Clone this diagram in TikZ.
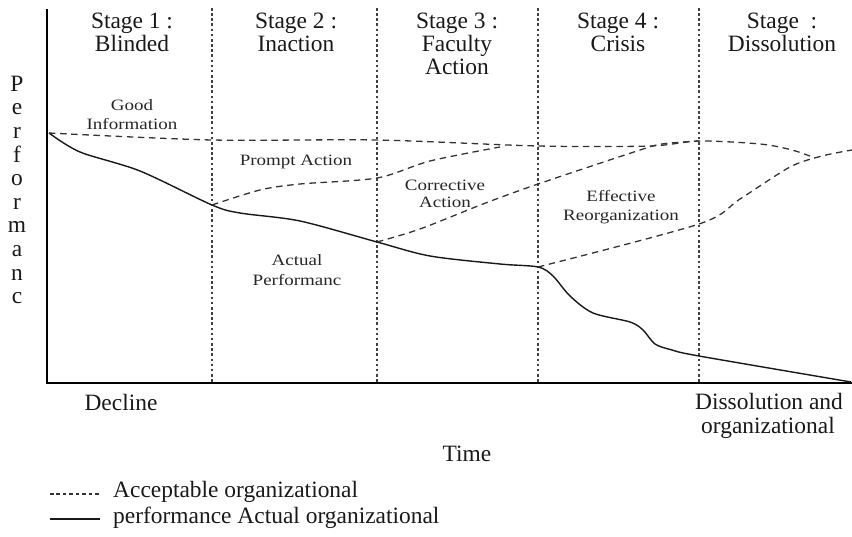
\documentclass[tikz,border=0pt]{standalone}
\usepackage{fontspec}
\setmainfont{Liberation Serif}
\newfontfamily\widefont[FakeStretch=1.2]{Liberation Serif}
\usepackage{tikz}

\begin{document}
\begin{tikzpicture}[x=0.03cm,y=-0.03cm]
		\tikzstyle{every node}+=[inner sep=0pt, text height=1.5ex, text depth=.25ex]
		\tikzstyle{bigtext}=[font=\fontsize{20}{22}\selectfont, text=black!90]
		\tikzstyle{curvelabel}=[font=\widefont\fontsize{13.5}{15}\selectfont, text=black!85]
		\tikzstyle{acceptable}=[black!80, line width=1.1pt, dash pattern=on 5.5pt off 4pt]
		\tikzstyle{actual}=[black!90, line width=1.2pt]
		\tikzstyle{stageline}=[black!75, line width=1.1pt, dash pattern=on 2.2pt off 2.2pt]
		\useasboundingbox (0,0) rectangle (852,536);
		% axes
		\coordinate (ytop) at (47,9);
		\coordinate (origin) at (47,383);
		\coordinate (xend) at (852,383);
		% stage borders
		\foreach \x/\n in {212/b1,377/b2,538/b3,699/b4}
		{
			\coordinate (\n top) at (\x,8);
			\coordinate (\n) at (\x,383);
			\draw [stageline] (\n top) -- (\n);
		}
		\draw [black, line width=2.5pt] (ytop) -- (origin) -- (xend);
		% points on the actual curve
		\coordinate (s0) at (49,133);
		\coordinate (s1) at (212,205);
		\coordinate (s2) at (377,242);
		\coordinate (s3) at (538,267);
		\coordinate (s4) at (699,356);
		\coordinate (s5) at (851,382);
		\draw [actual] plot [smooth, tension=0.5] coordinates {(s0) (80,152) (140,171) (s1) (240,213) (300,221) (s2) (430,256) (500,264) (s3) (553,276) (570,296) (593,313) (630,322) (643,330) (655,344) (672,350) (s4) (s5)};
		% acceptable performance and the recovery paths
		\draw [acceptable] plot [smooth, tension=0.5] coordinates {(s0) (212,140) (377,140) (538,146) (650,146) (699,141) (760,144) (792,150) (815,158)};
		\draw [acceptable] plot [smooth, tension=0.5] coordinates {(s1) (260,190) (300,184) (377,178) (430,161) (500,147)};
		\draw [acceptable] plot [smooth, tension=0.5] coordinates {(s2) (420,229) (483,204) (538,184) (637,151) (662,144) (699,141)};
		\draw [acceptable] plot [smooth, tension=0.5] coordinates {(s3) (699,224) (740,199) (790,167) (822,156) (852,150)};
		% stage titles
		\node [bigtext] (st1) at (132,25) {Stage 1 :};
		\node [bigtext] (st1b) at (132,48) {Blinded};
		\node [bigtext] (st2) at (296,25) {Stage 2 :};
		\node [bigtext] (st2b) at (296,48) {Inaction};
		\node [bigtext] (st3) at (457,25) {Stage 3 :};
		\node [bigtext] (st3b) at (457,48) {Faculty};
		\node [bigtext] (st3c) at (457,71) {Action};
		\node [bigtext] (st4) at (618,25) {Stage 4 :};
		\node [bigtext] (st4b) at (618,48) {Crisis};
		\node [bigtext] (st5) at (782,25) {Stage \ :};
		\node [bigtext] (st5b) at (782,48) {Dissolution};
		% vertical axis label
		\foreach \c [count=\i from 0] in {P,e,r,f,o,r,m,a,n,c}
			\node [bigtext] (ylab\i) at (17,88+23.6*\i) {\c};
		% labels on the curves
		\node [curvelabel] (good) at (132,107) {Good};
		\node [curvelabel] (goodb) at (132,126) {Information};
		\node [curvelabel] (prompt) at (296,162) {Prompt Action};
		\node [curvelabel] (corr) at (445,187) {Corrective};
		\node [curvelabel] (corrb) at (445,204) {Action};
		\node [curvelabel] (eff) at (621,198) {Effective};
		\node [curvelabel] (effb) at (621,217) {Reorganization};
		\node [curvelabel] (act) at (297,262) {Actual};
		\node [curvelabel] (actb) at (297,282) {Performanc};
		% horizontal axis labels
		\node [bigtext] (decline) at (121,407) {Decline};
		\node [bigtext] (diss) at (769,406) {Dissolution and};
		\node [bigtext] (dissb) at (768,430) {organizational};
		\node [bigtext] (time) at (467,458) {Time};
		% legend
		\coordinate (la) at (50,494);
		\coordinate (lb) at (100,494);
		\coordinate (lc) at (50,519);
		\coordinate (ld) at (100,519);
		\draw [black!80, line width=0.9pt, dash pattern=on 3pt off 2.5pt] (la) -- (lb);
		\draw [actual] (lc) -- (ld);
		\node [bigtext, anchor=west] (leg1) at (113,494) {Acceptable organizational};
		\node [bigtext, anchor=west] (leg2) at (113,520) {performance Actual organizational};
	\end{tikzpicture}
\end{document}
